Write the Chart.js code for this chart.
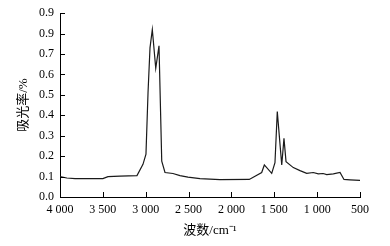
<!DOCTYPE html>
<html>
<head>
<meta charset="utf-8">
<script src="https://cdn.jsdelivr.net/npm/chart.js@4.4.0/dist/chart.umd.min.js"></script>
<style>
  html, body { margin: 0; padding: 0; background: #fff; }
  #wrap { width: 390px; height: 246px; }
</style>
</head>
<body>
<div id="wrap"><canvas id="chart" width="390" height="246"></canvas></div>
<script>
// IR spectrum
const wavenumbers = [4000, 3920, 3825, 3650, 3500, 3440, 3300, 3102, 3032, 2997, 2973, 2950, 2923, 2883, 2845, 2813, 2775, 2682, 2600, 2507, 2367, 2133, 1792, 1647, 1616, 1530, 1492, 1465, 1413, 1387, 1363, 1278, 1200, 1122, 1045, 987, 930, 888, 811, 733, 687, 617, 500];
const absorbance = [0.100, 0.093, 0.090, 0.090, 0.090, 0.100, 0.102, 0.105, 0.160, 0.210, 0.510, 0.730, 0.820, 0.630, 0.740, 0.176, 0.120, 0.115, 0.105, 0.097, 0.090, 0.085, 0.086, 0.120, 0.157, 0.116, 0.168, 0.418, 0.157, 0.287, 0.173, 0.144, 0.129, 0.116, 0.120, 0.113, 0.115, 0.110, 0.113, 0.120, 0.086, 0.084, 0.081];

const xTickValues = [4000, 3500, 3000, 2500, 2000, 1500, 1000, 500];
const xTickLabels = ['4 000', '3 500', '3 000', '2 500', '2 000', '1 500', '1 000', '500'];
// the source figure labels 0.8 as "0.9"
const yTickLabels = ['0.0', '0.1', '0.2', '0.3', '0.4', '0.5', '0.6', '0.7', '0.9', '0.9'];

const tickFont = { family: "'Liberation Serif', 'Times New Roman', serif", size: 12 };
const titleFont = { family: "'Liberation Serif', 'Noto Sans CJK SC', serif", size: 13 };

// tick marks pointing into the plot
const innerTicks = {
    id: 'innerTicks',
    afterDraw(chart) {
        const { ctx, chartArea, scales } = chart;
        ctx.save();
        ctx.strokeStyle = '#000';
        ctx.lineWidth = 1;
        ctx.beginPath();
        scales.x.ticks.forEach((t) => {
            const px = Math.round(scales.x.getPixelForValue(t.value)) + 0.5;
            ctx.moveTo(px, chartArea.bottom);
            ctx.lineTo(px, chartArea.bottom - 5);
        });
        scales.y.ticks.forEach((t) => {
            const py = Math.round(scales.y.getPixelForValue(t.value)) + 0.5;
            ctx.moveTo(chartArea.left, py);
            ctx.lineTo(chartArea.left + 5, py);
        });
        ctx.stroke();
        ctx.restore();
    }
};

new Chart(document.getElementById('chart').getContext('2d'), {
    type: 'line',
    data: {
        datasets: [
            {
                data: wavenumbers.map((w, i) => ({ x: w, y: absorbance[i] })),
                borderColor: '#1a1a1a',
                borderWidth: 1.2,
                pointRadius: 0,
                tension: 0,
                fill: false,
            },
        ],
    },
    options: {
        responsive: false,
        animation: false,
        layout: { padding: { top: 8, right: 30, left: 0, bottom: 0 } },
        plugins: {
            legend: { display: false },
            tooltip: { enabled: false },
        },
        scales: {
            x: {
                type: 'linear',
                reverse: true,
                min: 500,
                max: 4000,
                afterBuildTicks: (scale) => {
                    scale.ticks = xTickValues.map((v) => ({ value: v }));
                },
                afterFit: (scale) => { scale.height = 49; },
                grid: { display: true, drawOnChartArea: false, drawTicks: false },
                border: { display: true, color: '#000', width: 1 },
                ticks: {
                    color: '#000',
                    font: tickFont,
                    padding: 6,
                    maxRotation: 0,
                    autoSkip: false,
                    callback: (value) => xTickLabels[xTickValues.indexOf(value)],
                },
                title: {
                    display: true,
                    text: '波数/cm⁻¹',
                    color: '#000',
                    font: titleFont,
                    padding: { top: 2, bottom: 8 },
                },
            },
            y: {
                min: 0,
                max: 0.9,
                afterFit: (scale) => { scale.width = 60; },
                grid: { display: true, drawOnChartArea: false, drawTicks: false },
                border: { display: true, color: '#000', width: 1 },
                ticks: {
                    color: '#000',
                    font: tickFont,
                    padding: 6,
                    stepSize: 0.1,
                    callback: (value) => yTickLabels[Math.round(value * 10)],
                },
                title: {
                    display: true,
                    text: '吸光率/%',
                    color: '#000',
                    font: titleFont,
                    padding: { top: 16, bottom: 0 },
                },
            },
        },
    },
    plugins: [innerTicks],
});
</script>
</body>
</html>
